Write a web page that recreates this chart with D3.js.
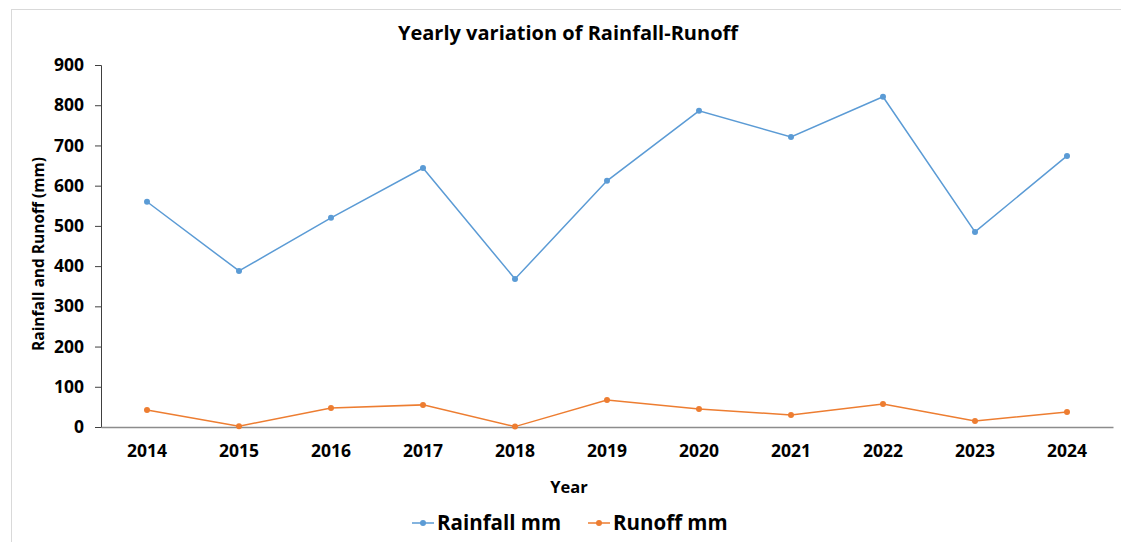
<!DOCTYPE html>
<html>
<head>
<meta charset="utf-8">
<script src="https://cdn.jsdelivr.net/npm/d3@7"></script>
<style>
  body { margin: 0; background: #fff; }
  text { font-family: "Open Sans", "Noto Sans", sans-serif; font-weight: bold; fill: #000; }
</style>
</head>
<body>
<div id="container"></div>
<script>
const years = ["2014", "2015", "2016", "2017", "2018", "2019", "2020", "2021", "2022", "2023", "2024"];
const rainfall = [560, 388, 520, 644, 368, 612, 786, 721, 821, 485, 674];
const runoff = [42, 2, 47, 55, 1, 67, 45, 30, 57, 15, 37];
const yTicks = [0, 100, 200, 300, 400, 500, 600, 700, 800, 900];

const width = 1121, height = 542;
const margin = { left: 101, right: 8, top: 65, bottom: 115 };

const svg = d3.select("#container").append("svg")
  .attr("width", width)
  .attr("height", height);

// chart frame
svg.append("rect")
  .attr("x", 11.5).attr("y", 9.5)
  .attr("width", width).attr("height", height)
  .attr("fill", "none")
  .attr("stroke", "#d9d9d9");

const x = d3.scaleBand()
  .domain(years)
  .range([margin.left, width - margin.right]);

const y = d3.scaleLinear()
  .domain([0, 900])
  .range([height - margin.bottom, margin.top]);

// y axis
const yAxis = svg.append("g")
  .attr("transform", `translate(${margin.left},0)`)
  .call(d3.axisLeft(y).tickValues(yTicks).tickSize(6).tickPadding(11));
yAxis.select(".domain").attr("stroke", "#404040");
yAxis.selectAll(".tick line").attr("stroke", "#404040");
yAxis.selectAll(".tick text").style("font-size", "17.5px");

// x axis
const xAxis = svg.append("g")
  .attr("transform", `translate(0,${y(0)})`)
  .call(d3.axisBottom(x).tickSize(0).tickPadding(18));
xAxis.select(".domain").attr("stroke", "#8c8c8c").attr("stroke-width", 1.5);
xAxis.selectAll(".tick text").style("font-size", "17.5px");

const line = d3.line()
  .x((d, i) => x(years[i]) + x.bandwidth() / 2)
  .y(d => y(d));

const series = [
  { name: "Rainfall mm", values: rainfall, color: "#5b9bd5" },
  { name: "Runoff mm", values: runoff, color: "#ed7d31" }
];

series.forEach(s => {
  svg.append("path")
    .datum(s.values)
    .attr("d", line)
    .attr("fill", "none")
    .attr("stroke", s.color)
    .attr("stroke-width", 1.5);
  svg.selectAll(null)
    .data(s.values)
    .enter().append("circle")
    .attr("cx", (d, i) => x(years[i]) + x.bandwidth() / 2)
    .attr("cy", d => y(d))
    .attr("r", 3)
    .attr("fill", s.color);
});

// title
svg.append("text")
  .attr("x", 568).attr("y", 40)
  .attr("text-anchor", "middle")
  .style("font-size", "20px")
  .text("Yearly variation of Rainfall-Runoff");

// axis titles
svg.append("text")
  .attr("x", 569).attr("y", 493)
  .attr("text-anchor", "middle")
  .style("font-size", "16.5px")
  .text("Year");

svg.append("text")
  .attr("transform", `translate(44,${(y(0) + y(900)) / 2 + 8}) rotate(-90)`)
  .attr("text-anchor", "middle")
  .style("font-size", "15.5px")
  .text("Rainfall and Runoff (mm)");

// legend
const legendX = [412, 588];
series.forEach((s, i) => {
  const g = svg.append("g").attr("transform", `translate(${legendX[i]},523)`);
  g.append("line")
    .attr("x1", 0).attr("x2", 22)
    .attr("stroke", s.color).attr("stroke-width", 1.5);
  g.append("circle").attr("cx", 11).attr("r", 3).attr("fill", s.color);
  g.append("text")
    .attr("x", 25).attr("dy", "0.35em")
    .style("font-size", "20.5px")
    .text(s.name);
});
</script>
</body>
</html>
